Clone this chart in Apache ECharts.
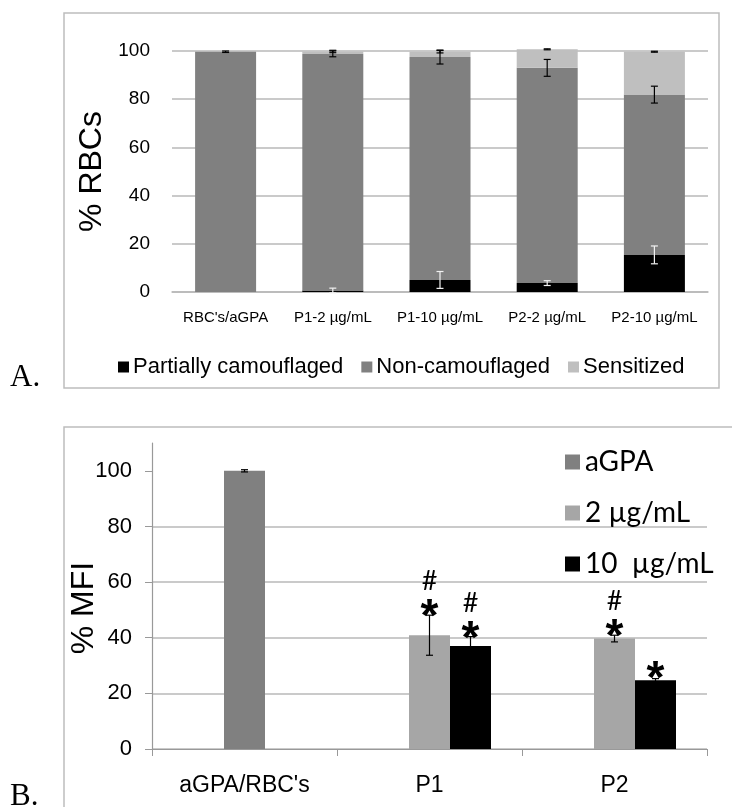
<!DOCTYPE html>
<html>
<head>
<meta charset="utf-8">
<script src="https://cdn.jsdelivr.net/npm/echarts@6/dist/echarts.min.js"></script>
<style>
  html, body { margin: 0; padding: 0; background: #fff; }
  #chart { width: 732px; height: 807px; }
</style>
</head>
<body>
<div id="chart"></div>
<script>
// ---- Panel A: RBC populations (% RBCs, stacked) ----
const catsA = ["RBC's/aGPA", 'P1-2 µg/mL', 'P1-10 µg/mL', 'P2-2 µg/mL', 'P2-10 µg/mL'];
const partial = [0, 0.6, 5.0, 3.7, 15.4];
const partialErr = [0, 1.0, 3.5, 1.0, 3.7];
const nonCamo = [99.7, 98.2, 92.5, 89.3, 66.5];
const nonCamoErr = [0.3, 1.2, 2.9, 3.5, 3.5];
const sensitized = [0, 1.0, 2.2, 7.7, 17.8];
const sensitizedErr = [0, 0.5, 0.5, 0.2, 0.2];
const ticksA = [0, 20, 40, 60, 80, 100];

// ---- Panel B: % MFI ----
const catsB = ["aGPA/RBC's", 'P1', 'P2'];
const aGPA = [100, null, null];
const aGPAErr = [0.4, null, null];
const low = [null, 40.9, 39.7];      // 2 µg/mL
const lowErr = [null, 7.2, 1.2];
const high = [null, 37.0, 24.7];     // 10 µg/mL
const highErr = [null, 3.4, 0.6];
const ticksB = [0, 20, 40, 60, 80, 100];
// significance marks: level of the asterisk and whether a '#' sits above it
const starLow = [null, 50.5, 43.5];
const hashLow = [false, true, true];
const starHigh = [null, 42.8, 28.4];
const hashHigh = [false, true, false];

const ARIAL = '"Liberation Sans", Arial, sans-serif';
const CALIBRI = 'Lato, "Open Sans", sans-serif';
const BAR_W_B = 41;

const dash = v => (v === null || v === undefined) ? '-' : v;

// error bar renderer: data = [categoryIndex, centre, halfRange, slotOffset]
function errorBar(color, capHalf, slotPx) {
  return function (params, api) {
    const c = api.value(0), v = api.value(1), e = api.value(2), slot = api.value(3) || 0;
    const p1 = api.coord([c, v + e]);
    const p2 = api.coord([c, v - e]);
    const x = p1[0] + slot * slotPx;
    const style = { stroke: color, lineWidth: 1.2 };
    const kids = [
      { type: 'line', shape: { x1: x, y1: p1[1], x2: x, y2: p2[1] }, style },
      { type: 'line', shape: { x1: x - capHalf, y1: p1[1], x2: x + capHalf, y2: p1[1] }, style },
      { type: 'line', shape: { x1: x - capHalf, y1: p2[1], x2: x + capHalf, y2: p2[1] }, style }
    ];
    return { type: 'group', children: kids };
  };
}

// stacked tops for panel A error bars
const errA = { partial: [], non: [], sens: [] };
catsA.forEach((_, i) => {
  const t1 = partial[i], t2 = t1 + nonCamo[i], t3 = t2 + sensitized[i];
  if (partialErr[i] > 0) errA.partial.push([i, t1, partialErr[i], 0]);
  if (nonCamoErr[i] > 0) errA.non.push([i, t2, nonCamoErr[i], 0]);
  if (sensitizedErr[i] > 0) errA.sens.push([i, t3, sensitizedErr[i], 0]);
});

// panel B error bars (slot 0 = centre slot, slot 1 = right slot)
const errB = [];
catsB.forEach((_, i) => {
  if (aGPA[i] !== null) errB.push([i, aGPA[i], aGPAErr[i], 0]);
  if (low[i] !== null) errB.push([i, low[i], lowErr[i], 0]);
  if (high[i] !== null) errB.push([i, high[i], highErr[i], 1]);
});

// panel B significance marks
const marks = [];
catsB.forEach((_, i) => {
  if (starLow[i] !== null) marks.push([i, starLow[i], 0, hashLow[i] ? 1 : 0]);
  if (starHigh[i] !== null) marks.push([i, starHigh[i], 1, hashHigh[i] ? 1 : 0]);
});

function markItem(params, api) {
  const c = api.value(0), lvl = api.value(1), slot = api.value(2), hash = api.value(3);
  const p = api.coord([c, lvl]);
  const x = p[0] + slot * BAR_W_B;
  const kids = [{
    type: 'text', x: x, y: p[1] + 10,
    style: { text: '*', font: 'bold 46px ' + ARIAL, fill: '#000', align: 'center', verticalAlign: 'middle' }
  }];
  if (hash) {
    kids.push({
      type: 'text', x: x, y: p[1] - 27,
      style: { text: '#', font: '27px ' + CALIBRI, fill: '#000', align: 'center', verticalAlign: 'middle' }
    });
  }
  return { type: 'group', children: kids };
}

const gridColor = '#b8b8b8';

const option = {
  animation: false,
  backgroundColor: '#fff',
  graphic: [
    { type: 'rect', shape: { x: 64, y: 13, width: 655, height: 375 }, style: { fill: 'none', stroke: '#bdbdbd', lineWidth: 1.5 } },
    { type: 'rect', shape: { x: 64, y: 427, width: 690, height: 420 }, style: { fill: 'none', stroke: '#bdbdbd', lineWidth: 1.5 } },
    { type: 'text', left: 10, top: 362, style: { text: 'A.', font: '31px "Liberation Serif", "Times New Roman", serif', fill: '#000' } },
    { type: 'text', left: 10, top: 781, style: { text: 'B.', font: '31px "Liberation Serif", "Times New Roman", serif', fill: '#000' } }
  ],
  legend: [
    {
      data: ['Partially camouflaged', 'Non-camouflaged', 'Sensitized'],
      left: 113, top: 351, orient: 'horizontal',
      icon: 'rect', itemWidth: 11, itemHeight: 11, itemGap: 18,
      selectedMode: false,
      textStyle: { fontFamily: ARIAL, fontSize: 22, color: '#000', padding: [0, 0, 0, -1] }
    },
    {
      data: ['aGPA', '2 µg/mL', '10  µg/mL'],
      left: 560, top: 442, orient: 'vertical',
      icon: 'rect', itemWidth: 15, itemHeight: 15, itemGap: 21,
      selectedMode: false,
      textStyle: { fontFamily: CALIBRI, fontSize: 28, lineHeight: 30, color: '#000' }
    }
  ],
  grid: [
    { left: 172, right: 24, top: 51, bottom: 807 - 292 },
    { left: 152, right: 25, top: 443, bottom: 807 - 749 }
  ],
  xAxis: [
    {
      gridIndex: 0, type: 'category', data: catsA,
      axisLine: { lineStyle: { color: gridColor, width: 1.5 } },
      axisTick: { show: false },
      axisLabel: { interval: 0, fontFamily: ARIAL, fontSize: 15, color: '#000', margin: 18 }
    },
    {
      gridIndex: 1, type: 'category', data: catsB,
      axisLine: { lineStyle: { color: '#999', width: 1.2 } },
      axisTick: { show: true, length: 7, lineStyle: { color: '#999' } },
      axisLabel: { fontFamily: ARIAL, fontSize: 23, color: '#000', margin: 25 }
    }
  ],
  yAxis: [
    {
      gridIndex: 0, type: 'value', min: 0, max: 100, interval: 20,
      name: '% RBCs', nameLocation: 'middle', nameGap: 64, nameMoveOverlap: false,
      nameTextStyle: { fontFamily: ARIAL, fontSize: 32, color: '#000' },
      axisLine: { show: false }, axisTick: { show: false },
      axisLabel: { fontFamily: ARIAL, fontSize: 19, color: '#000', margin: 22, customValues: ticksA },
      splitLine: { lineStyle: { color: gridColor, width: 1.5 } }
    },
    {
      gridIndex: 1, type: 'value', min: 0, max: 110, interval: 20,
      name: '% MFI', nameLocation: 'middle', nameGap: 52, nameMoveOverlap: false,
      nameTextStyle: { fontFamily: ARIAL, fontSize: 32, color: '#000', padding: [0, 24, 0, 0] },
      axisLine: { show: true, lineStyle: { color: '#999', width: 1.2 } },
      axisTick: { show: true, length: 7, lineStyle: { color: '#999' }, customValues: ticksB },
      axisLabel: { fontFamily: ARIAL, fontSize: 22, color: '#000', margin: 20, customValues: ticksB },
      splitLine: { showMaxLine: false, lineStyle: { color: gridColor, width: 1.5 } }
    }
  ],
  series: [
    // Panel A stacked bars
    { name: 'Partially camouflaged', type: 'bar', xAxisIndex: 0, yAxisIndex: 0, stack: 'a', barWidth: 61, clip: false,
      itemStyle: { color: '#000000' }, data: partial },
    { name: 'Non-camouflaged', type: 'bar', xAxisIndex: 0, yAxisIndex: 0, stack: 'a', barWidth: 61, clip: false,
      itemStyle: { color: '#808080' }, data: nonCamo },
    { name: 'Sensitized', type: 'bar', xAxisIndex: 0, yAxisIndex: 0, stack: 'a', barWidth: 61, clip: false,
      itemStyle: { color: '#bfbfbf' }, data: sensitized },
    { type: 'custom', xAxisIndex: 0, yAxisIndex: 0, renderItem: errorBar('#f2f2f2', 3.5, 0), data: errA.partial, z: 5, silent: true },
    { type: 'custom', xAxisIndex: 0, yAxisIndex: 0, renderItem: errorBar('#000', 3.5, 0), data: errA.non, z: 5, silent: true },
    { type: 'custom', xAxisIndex: 0, yAxisIndex: 0, renderItem: errorBar('#000', 3.5, 0), data: errA.sens, z: 5, silent: true },

    // Panel B clustered bars: an empty left slot keeps the first bar of each group centred
    { name: 'slot', type: 'bar', xAxisIndex: 1, yAxisIndex: 1, barWidth: BAR_W_B, barGap: '0%', data: ['-', '-', '-'] },
    { name: 'aGPA', type: 'bar', xAxisIndex: 1, yAxisIndex: 1, stack: 'b', barWidth: BAR_W_B, barGap: '0%',
      itemStyle: { color: '#808080' }, data: aGPA.map(dash) },
    { name: '2 µg/mL', type: 'bar', xAxisIndex: 1, yAxisIndex: 1, stack: 'b', barWidth: BAR_W_B, barGap: '0%',
      itemStyle: { color: '#a6a6a6' }, data: low.map(dash) },
    { name: '10  µg/mL', type: 'bar', xAxisIndex: 1, yAxisIndex: 1, barWidth: BAR_W_B, barGap: '0%',
      itemStyle: { color: '#000000' }, data: high.map(dash) },
    { type: 'custom', xAxisIndex: 1, yAxisIndex: 1, renderItem: errorBar('#000', 3.5, BAR_W_B), data: errB, z: 5, silent: true },
    { type: 'custom', xAxisIndex: 1, yAxisIndex: 1, renderItem: markItem, data: marks, z: 6, silent: true }
  ]
};

const chart = echarts.init(document.getElementById('chart'), null, { renderer: 'canvas' });
chart.setOption(option);
</script>
</body>
</html>
